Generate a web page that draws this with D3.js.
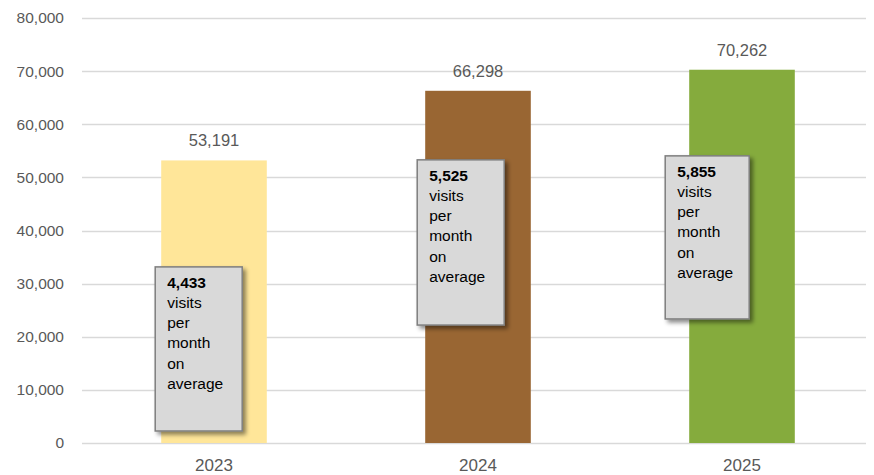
<!DOCTYPE html>
<html>
<head>
<meta charset="utf-8">
<script src="https://cdn.jsdelivr.net/npm/d3@7"></script>
<style>
  body { margin: 0; background: #fff; }
  svg { display: block; font-family: "Liberation Sans", Arial, sans-serif; }
</style>
</head>
<body>
<svg id="chart" width="874" height="475"></svg>
<script>
// chart data
var years = ["2023", "2024", "2025"];
var visits = [53191, 66298, 70262];
var monthlyAvg = [4433, 5525, 5855];
var barColors = ["#FFE699", "#996633", "#85AB3D"];
var yTicks = [0, 10000, 20000, 30000, 40000, 50000, 60000, 70000, 80000];

// callout box placement (value-space top/bottom, pixel offset from bar left)
var callouts = [
  { top: 33150, bottom: 2260, dx: -6, w: 87 },
  { top: 53300, bottom: 22200, dx: -8, w: 87 },
  { top: 54050, bottom: 23350, dx: -24, w: 84 }
];

var svg = d3.select("#chart"),
    width = +svg.attr("width"),
    height = +svg.attr("height");

var margin = { left: 82, right: 0, top: 18, bottom: 32 };

var x = d3.scaleBand()
  .domain(years)
  .range([margin.left, width - margin.right])
  .paddingInner(0.6)
  .paddingOuter(0.3);

var y = d3.scaleLinear()
  .domain([0, 80000])
  .range([height - margin.bottom, margin.top]);

var fmt = d3.format(",");

var defs = svg.append("defs");
var filter = defs.append("filter")
  .attr("id", "shadow")
  .attr("x", "-20%").attr("y", "-20%")
  .attr("width", "150%").attr("height", "150%");
filter.append("feDropShadow")
  .attr("dx", 3).attr("dy", 3)
  .attr("stdDeviation", 2)
  .attr("flood-color", "#000")
  .attr("flood-opacity", 0.45);

// gridlines
svg.append("g")
  .attr("class", "grid")
  .selectAll("line")
  .data(yTicks)
  .enter().append("line")
  .attr("x1", margin.left)
  .attr("x2", 866)
  .attr("y1", function (d) { return Math.round(y(d)) + 0.5; })
  .attr("y2", function (d) { return Math.round(y(d)) + 0.5; })
  .attr("stroke", "#d9d9d9")
  .attr("stroke-width", 1.3);

// y axis labels
svg.append("g")
  .selectAll("text")
  .data(yTicks)
  .enter().append("text")
  .attr("x", 64)
  .attr("y", function (d) { return y(d); })
  .attr("dy", "0.35em")
  .attr("text-anchor", "end")
  .attr("font-size", 15.5)
  .attr("fill", "#595959")
  .text(function (d) { return fmt(d); });

// bars
var bars = years.map(function (yr, i) {
  return { year: yr, value: visits[i], color: barColors[i], avg: monthlyAvg[i], c: callouts[i] };
});

svg.append("g")
  .selectAll("rect")
  .data(bars)
  .enter().append("rect")
  .attr("x", function (d) { return x(d.year); })
  .attr("y", function (d) { return y(d.value); })
  .attr("width", x.bandwidth())
  .attr("height", function (d) { return y(0) - y(d.value); })
  .attr("fill", function (d) { return d.color; });

// value labels
svg.append("g")
  .selectAll("text")
  .data(bars)
  .enter().append("text")
  .attr("x", function (d) { return x(d.year) + x.bandwidth() / 2; })
  .attr("y", function (d) { return y(d.value) - 14; })
  .attr("text-anchor", "middle")
  .attr("font-size", 16.5)
  .attr("fill", "#595959")
  .text(function (d) { return fmt(d.value); });

// x axis labels
svg.append("g")
  .selectAll("text")
  .data(years)
  .enter().append("text")
  .attr("x", function (d) { return x(d) + x.bandwidth() / 2; })
  .attr("y", 471)
  .attr("text-anchor", "middle")
  .attr("font-size", 17)
  .attr("fill", "#595959")
  .style("font-family", "'Liberation Sans Narrow', 'Liberation Sans', sans-serif")
  .text(function (d) { return d; });

// callout boxes
var box = svg.append("g")
  .selectAll("g")
  .data(bars)
  .enter().append("g")
  .attr("transform", function (d) {
    return "translate(" + (x(d.year) + d.c.dx) + "," + y(d.c.top) + ")";
  });

box.append("rect")
  .attr("width", function (d) { return d.c.w; })
  .attr("height", function (d) { return y(d.c.bottom) - y(d.c.top); })
  .attr("fill", "#d9d9d9")
  .attr("stroke", "#7f7f7f")
  .attr("stroke-width", 1.5)
  .attr("filter", "url(#shadow)");

var lines = ["visits", "per", "month", "on", "average"];
var txt = box.append("text")
  .attr("font-size", 15.5)
  .attr("fill", "#000");

txt.append("tspan")
  .attr("x", 12)
  .attr("y", 21)
  .attr("font-weight", "bold")
  .text(function (d) { return fmt(d.avg); });

lines.forEach(function (l, i) {
  txt.append("tspan")
    .attr("x", 12)
    .attr("y", 21 + (i + 1) * 20.2)
    .text(l);
});
</script>
</body>
</html>
